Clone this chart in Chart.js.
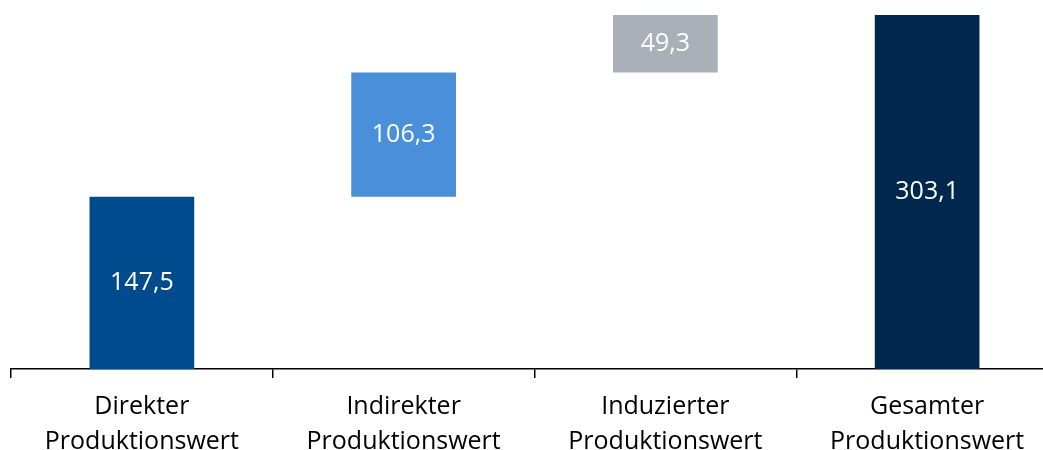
<!DOCTYPE html>
<html>
<head>
<meta charset="utf-8">
<script src="https://cdn.jsdelivr.net/npm/chart.js@4/dist/chart.umd.min.js"></script>
<style>
  html, body { margin: 0; padding: 0; background: #fff; overflow: hidden; }
  #wrap { width: 1070px; height: 472px; position: relative; }
</style>
</head>
<body>
<div id="wrap"><canvas id="chart"></canvas></div>
<script>
// categories (two-line labels)
const categories = [
  ['Direkter', 'Produktionswert'],
  ['Indirekter', 'Produktionswert'],
  ['Induzierter', 'Produktionswert'],
  ['Gesamter', 'Produktionswert']
];
// step values of the waterfall
const values = [147.5, 106.3, 49.3, 303.1];
const isTotal = [false, false, false, true];
const barColors = ['#004B8D', '#4A8FDA', '#A9B0B7', '#00284F'];

// build floating ranges from the steps
let running = 0;
const ranges = values.map((v, i) => {
  if (isTotal[i]) return [0, v];
  const r = [running, running + v];
  running += v;
  return r;
});

const fmt = v => v.toFixed(1).replace('.', ',');

const valueLabels = {
  id: 'valueLabels',
  afterDatasetsDraw(chart) {
    const ctx = chart.ctx;
    const meta = chart.getDatasetMeta(0);
    ctx.save();
    ctx.fillStyle = '#ffffff';
    ctx.font = '25px "Open Sans", sans-serif';
    ctx.textAlign = 'center';
    ctx.textBaseline = 'middle';
    meta.data.forEach((bar, i) => {
      const p = bar.getCenterPoint();
      ctx.fillText(fmt(values[i]), p.x, p.y);
    });
    ctx.restore();
  }
};

new Chart(document.getElementById('chart'), {
  type: 'bar',
  data: {
    labels: categories,
    datasets: [{
      data: ranges,
      backgroundColor: barColors,
      borderWidth: 0,
      barPercentage: 0.4,
      categoryPercentage: 1
    }]
  },
  options: {
    responsive: true,
    maintainAspectRatio: false,
    animation: false,
    layout: { padding: { left: 11, right: 12, top: 15, bottom: 1 } },
    plugins: { legend: { display: false }, tooltip: { enabled: false } },
    scales: {
      x: {
        grid: {
          display: true,
          drawOnChartArea: false,
          drawTicks: true,
          tickLength: 9,
          color: '#000000',
          lineWidth: 1.5
        },
        border: { display: true, color: '#000000', width: 1.5 },
        ticks: {
          color: '#000000',
          font: { family: '"Open Sans", sans-serif', size: 25, lineHeight: 1.38 },
          padding: 12,
          maxRotation: 0
        }
      },
      y: {
        display: false,
        min: 0,
        max: 303.1
      }
    }
  },
  plugins: [valueLabels]
});
</script>
</body>
</html>
